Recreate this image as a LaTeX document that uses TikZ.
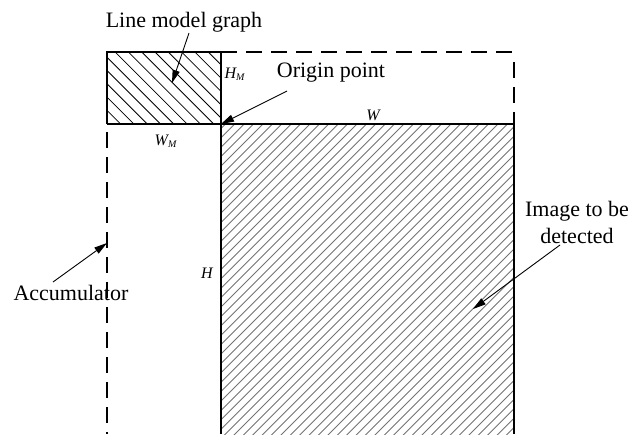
\documentclass[tikz,border=0pt]{standalone}
\usepackage{fontspec}
\setmainfont{Liberation Serif}
\usetikzlibrary{arrows.meta}
\begin{document}
\begin{tikzpicture}[x=0.5pt,y=-0.5pt,
  lbl/.style={font=\fontsize{11}{13.5}\selectfont, inner sep=0pt, align=center},
  sym/.style={font=\fontsize{8}{9}\selectfont\itshape, inner sep=0pt},
  edgeln/.style={line width=0.6pt},
  dashln/.style={line width=0.6pt, dash pattern=on 8pt off 4.5pt},
  hatchA/.style={line width=0.4pt, black},
  hatchB/.style={line width=0.45pt, black!55},
  ptr/.style={line width=0.45pt, -{Triangle[length=6.5pt,width=3.6pt]}}]
\useasboundingbox (0,0) rectangle (632,434);
% coordinates
\coordinate (mtl) at (107,52);
\coordinate (mtr) at (221,52);
\coordinate (org) at (221,124);
\coordinate (mbl) at (107,124);
\coordinate (itr) at (514,124);
\coordinate (ibr) at (514,434);
\coordinate (ibl) at (221,434);
\coordinate (atr) at (514,52);
\coordinate (atr2) at (514,62);
\coordinate (mbl2) at (107,132);
\coordinate (abl) at (107,434);
% hatching of the model graph
\begin{scope}
  \clip (mtl) rectangle (org);
  \foreach \c in {-30,-16.7,...,180} {
    \draw[hatchA] (\c+40,40) -- (\c+140,140);
  }
\end{scope}
% hatching of the image
\begin{scope}
  \clip (org) rectangle (ibr);
  \foreach \c in {340,349.4,...,960} {
    \draw[hatchB] (\c-110,110) -- (\c-450,450);
  }
\end{scope}
% outlines
\draw[edgeln] (mbl) -- (mtl) -- (mtr) -- (org);
\draw[edgeln] (mbl) -- (itr);
\draw[edgeln] (org) -- (ibl);
\draw[edgeln] (itr) -- (ibr);
\draw[dashln] (mtr) -- (atr);
\draw[dashln] (atr2) -- (itr);
\draw[dashln] (mbl2) -- (abl);
% labels
\node[lbl] (lmg) at (184,22) {Line model graph};
\node[lbl] (orp) at (331,73) {Origin point};
\node[lbl] (acc) at (71,293) {Accumulator};
\node[lbl] (img) at (577,222) {Image to be\\detected};
\node[sym] (hm) at (235,74) {H\textsubscript{\fontsize{5}{6}\selectfont M}};
\node[sym] (wm) at (166,141) {W\textsubscript{\fontsize{5}{6}\selectfont M}};
\node[sym] (w) at (373,115) {W};
\node[sym] (h) at (207,273) {H};
% pointers
\coordinate (lmgtail) at (189,33);
\coordinate (orptail) at (287,91);
\coordinate (acctail) at (53,282);
\coordinate (imgtail) at (560,245);
\coordinate (lmgtip) at (172,83);
\coordinate (acctip) at (107,243);
\coordinate (imgtip) at (473,309);
\draw[ptr] (lmgtail) -- (lmgtip);
\draw[ptr] (orptail) -- (org);
\draw[ptr] (acctail) -- (acctip);
\draw[ptr] (imgtail) -- (imgtip);
\end{tikzpicture}
\end{document}
